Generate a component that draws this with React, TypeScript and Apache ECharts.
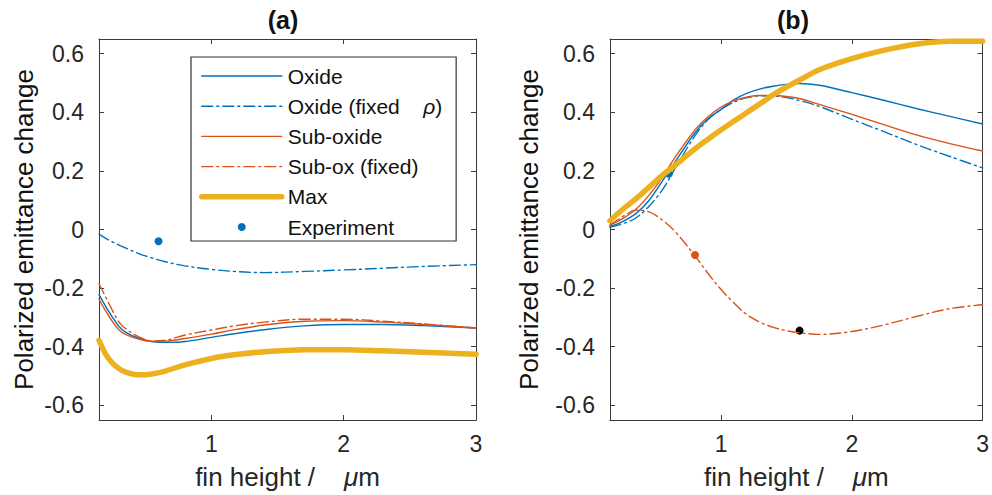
import React, { useEffect, useRef } from "react";
import * as echarts from "echarts";

// ---------- Data ----------
// Panel (a)
const X_A = [0.15, 0.2, 0.25, 0.3, 0.35, 0.45, 0.55, 0.65, 0.8, 1.0, 1.2, 1.4, 1.7, 2.0, 2.3, 2.6, 3.0];
const A_OXIDE = [-0.222, -0.262, -0.298, -0.33, -0.35, -0.371, -0.382, -0.385, -0.382, -0.368, -0.354, -0.342, -0.329, -0.324, -0.324, -0.328, -0.336];
const A_OXIDE_FIXED = [-0.016, -0.03, -0.042, -0.053, -0.063, -0.082, -0.097, -0.11, -0.124, -0.136, -0.144, -0.147, -0.143, -0.138, -0.132, -0.126, -0.12];
const A_SUBOX = [-0.238, -0.278, -0.313, -0.342, -0.358, -0.374, -0.382, -0.381, -0.372, -0.357, -0.34, -0.326, -0.313, -0.311, -0.316, -0.324, -0.336];
const A_SUBOX_FIXED = [-0.185, -0.23, -0.275, -0.315, -0.338, -0.366, -0.38, -0.378, -0.36, -0.343, -0.327, -0.316, -0.306, -0.306, -0.313, -0.322, -0.336];
const A_MAX = [-0.378, -0.425, -0.455, -0.474, -0.486, -0.496, -0.493, -0.483, -0.462, -0.44, -0.426, -0.417, -0.41, -0.41, -0.414, -0.419, -0.426];
const A_EXP_X = [0.6];
const A_EXP_Y = [-0.04];

// Panel (b)
const X_B = [0.15, 0.25, 0.35, 0.45, 0.55, 0.65, 0.8, 0.9, 1.0, 1.1, 1.2, 1.3, 1.4, 1.5, 1.6, 1.75, 2.0, 2.25, 2.5, 2.75, 3.0];
const B_OXIDE = [0.01, 0.028, 0.055, 0.1, 0.165, 0.232, 0.33, 0.378, 0.41, 0.443, 0.465, 0.48, 0.489, 0.495, 0.498, 0.492, 0.467, 0.44, 0.412, 0.386, 0.36];
const B_OXIDE_FIXED = [0.008, 0.02, 0.04, 0.08, 0.135, 0.21, 0.32, 0.375, 0.41, 0.435, 0.45, 0.456, 0.456, 0.45, 0.44, 0.42, 0.376, 0.333, 0.289, 0.249, 0.21];
const B_SUBOX = [0.015, 0.038, 0.07, 0.118, 0.178, 0.248, 0.34, 0.385, 0.418, 0.44, 0.452, 0.457, 0.457, 0.454, 0.447, 0.427, 0.393, 0.357, 0.322, 0.293, 0.268];
const B_SUBOX_FIXED = [0.015, 0.045, 0.066, 0.06, 0.032, -0.008, -0.09, -0.15, -0.205, -0.252, -0.291, -0.317, -0.334, -0.345, -0.352, -0.358, -0.348, -0.325, -0.296, -0.27, -0.257];
const B_MAX = [0.03, 0.07, 0.105, 0.145, 0.185, 0.22, 0.275, 0.308, 0.34, 0.37, 0.4, 0.43, 0.46, 0.486, 0.51, 0.545, 0.583, 0.612, 0.633, 0.642, 0.642];
const B_EXP_X = [0.6, 0.8, 1.6];
const B_EXP_Y = [0.19, -0.087, -0.345];

// Axes
const X_TICKS = [1, 2, 3];
const Y_TICKS = [-0.6, -0.4, -0.2, 0, 0.2, 0.4, 0.6];
const X_MIN = 0.15;
const X_MAX = 3;
const Y_MIN = -0.65;
const Y_MAX = 0.65;

const NAMES = ["Oxide", "Oxide (fixed ρ)", "Sub-oxide", "Sub-ox (fixed)", "Max", "Experiment"];

// ---------- Styles ----------
const BLUE = "#0072BD";
const ORANGE = "#D95319";
const YELLOW = "#EDB120";
const AXIS = "#3a3a3a";
const TEXT = "#262626";
const FONT = "'Liberation Sans', Arial, Helvetica, sans-serif";
const DASHDOT = [11, 4, 2, 4];
const THIN = 1.4;
const THICK = 5.5;

const zip = (xs: number[], ys: number[]) => xs.map((x, i) => [x, ys[i]]);

function xAxes(gridIndex: number) {
  const common = {
    gridIndex,
    type: "value" as const,
    min: X_MIN,
    max: X_MAX,
    splitLine: { show: false },
    axisLine: { show: true, onZero: false, lineStyle: { color: AXIS, width: 1 } },
    axisTick: { show: true, inside: true, length: 5, customValues: X_TICKS, lineStyle: { color: AXIS } },
  };
  return [
    {
      ...common,
      position: "bottom",
      axisLabel: {
        show: true,
        customValues: X_TICKS,
        margin: 12,
        fontSize: 23,
        color: TEXT,
        fontFamily: FONT,
        formatter: (v: number) => String(v),
      },
      name: "fin height /    {i|μ}m",
      nameLocation: "middle",
      nameGap: 44,
      nameTextStyle: {
        fontSize: 26,
        color: TEXT,
        fontFamily: FONT,
        rich: { i: { fontSize: 26, fontStyle: "italic", color: TEXT, fontFamily: FONT } },
      },
    },
    { ...common, position: "top", axisLabel: { show: false } },
  ];
}

function yAxes(gridIndex: number, nameGap: number) {
  const common = {
    gridIndex,
    type: "value" as const,
    min: Y_MIN,
    max: Y_MAX,
    splitLine: { show: false },
    axisLine: { show: true, onZero: false, lineStyle: { color: AXIS, width: 1 } },
    axisTick: { show: true, inside: true, length: 5, customValues: Y_TICKS, lineStyle: { color: AXIS } },
  };
  return [
    {
      ...common,
      position: "left",
      axisLabel: {
        show: true,
        customValues: Y_TICKS,
        margin: 15,
        fontSize: 23,
        color: TEXT,
        fontFamily: FONT,
        formatter: (v: number) => (Math.abs(v) < 1e-9 ? "0" : v.toFixed(1)),
      },
      name: "Polarized emittance change",
      nameLocation: "middle",
      nameGap,
      nameTextStyle: { fontSize: 26, color: "#111", fontFamily: FONT },
    },
    { ...common, position: "right", axisLabel: { show: false } },
  ];
}

function lineSeries(name: string, xs: number[], ys: number[], color: string, width: number, dashed: boolean, axis: number) {
  return {
    type: "line",
    name,
    xAxisIndex: axis,
    yAxisIndex: axis,
    data: zip(xs, ys),
    smooth: 0.35,
    symbol: "none",
    showSymbol: false,
    lineStyle: { color, width, type: dashed ? DASHDOT : "solid", cap: "round" },
    itemStyle: { color },
    emphasis: { disabled: true },
  };
}

export default function App() {
  const ref = useRef<HTMLDivElement>(null);

  useEffect(() => {
    if (!ref.current) return;
    const chart = echarts.init(ref.current, undefined, { renderer: "svg" });

    const series: any[] = [
      lineSeries(NAMES[0], X_A, A_OXIDE, BLUE, THIN, false, 0),
      lineSeries(NAMES[1], X_A, A_OXIDE_FIXED, BLUE, THIN, true, 0),
      lineSeries(NAMES[2], X_A, A_SUBOX, ORANGE, THIN, false, 0),
      lineSeries(NAMES[3], X_A, A_SUBOX_FIXED, ORANGE, THIN, true, 0),
      lineSeries(NAMES[4], X_A, A_MAX, YELLOW, THICK, false, 0),
      {
        type: "scatter",
        name: NAMES[5],
        xAxisIndex: 0,
        yAxisIndex: 0,
        data: zip(A_EXP_X, A_EXP_Y),
        symbol: "circle",
        symbolSize: 8,
        itemStyle: { color: BLUE, opacity: 1 },
        emphasis: { disabled: true },
      },
      lineSeries(NAMES[0], X_B, B_OXIDE, BLUE, THIN, false, 2),
      lineSeries(NAMES[1], X_B, B_OXIDE_FIXED, BLUE, THIN, true, 2),
      lineSeries(NAMES[2], X_B, B_SUBOX, ORANGE, THIN, false, 2),
      lineSeries(NAMES[3], X_B, B_SUBOX_FIXED, ORANGE, THIN, true, 2),
      lineSeries(NAMES[4], X_B, B_MAX, YELLOW, THICK, false, 2),
      {
        type: "scatter",
        name: NAMES[5],
        xAxisIndex: 2,
        yAxisIndex: 2,
        data: zip(B_EXP_X, B_EXP_Y).map((p, i) => ({
          value: p,
          itemStyle: { color: [BLUE, ORANGE, "#000000"][i], opacity: 1 },
        })),
        symbol: "circle",
        symbolSize: 8,
        itemStyle: { color: BLUE, opacity: 1 },
        emphasis: { disabled: true },
      },
    ];

    const legendLine = (i: number) => {
      const color = i < 2 ? BLUE : i < 4 ? ORANGE : YELLOW;
      return {
        color,
        width: i === 4 ? THICK : THIN,
        type: i === 1 || i === 3 ? DASHDOT : "solid",
      };
    };

    chart.setOption({
      animation: false,
      backgroundColor: "#ffffff",
      textStyle: { fontFamily: FONT },
      grid: [
        { left: 99, top: 39, width: 377, height: 383, containLabel: false },
        { left: 610, top: 39, width: 377, height: 383, containLabel: false },
      ],
      xAxis: [...xAxes(0), ...xAxes(1)],
      yAxis: [...yAxes(0, 62), ...yAxes(1, 68)],
      legend: {
        show: true,
        orient: "vertical",
        left: 191,
        top: 57,
        padding: [8, 14, 3, 8],
        itemWidth: 80,
        itemHeight: 8,
        itemGap: 8.2,
        align: "left",
        borderColor: "#333",
        borderWidth: 1.2,
        backgroundColor: "#ffffff",
        selectedMode: false,
        data: NAMES.map((n, i) =>
          i < 5
            ? { name: n, itemStyle: { opacity: 0 }, lineStyle: legendLine(i) }
            : { name: n, itemStyle: { color: BLUE, opacity: 1 } }
        ),
        textStyle: {
          fontSize: 21,
          color: "#111",
          fontFamily: FONT,
          lineHeight: 22,
          padding: [0, 0, 0, 1],
          rich: { i: { fontSize: 21, fontStyle: "italic", color: "#111", fontFamily: FONT } },
        },
        formatter: (name: string) => (name === NAMES[1] ? "Oxide (fixed    {i|ρ})" : name),
      },
      graphic: [
        {
          type: "text",
          x: 283,
          y: 20,
          style: {
            text: "(a)",
            fontSize: 25,
            fontWeight: "bold",
            fontFamily: FONT,
            fill: "#111",
            align: "center",
            verticalAlign: "middle",
          },
        },
        {
          type: "text",
          x: 793,
          y: 20,
          style: {
            text: "(b)",
            fontSize: 25,
            fontWeight: "bold",
            fontFamily: FONT,
            fill: "#111",
            align: "center",
            verticalAlign: "middle",
          },
        },
      ],
      series,
    });

    return () => chart.dispose();
  }, []);

  return (
    <div
      ref={ref}
      style={{ position: "fixed", left: 0, top: 0, width: 992, height: 495, background: "#fff" }}
    />
  );
}
